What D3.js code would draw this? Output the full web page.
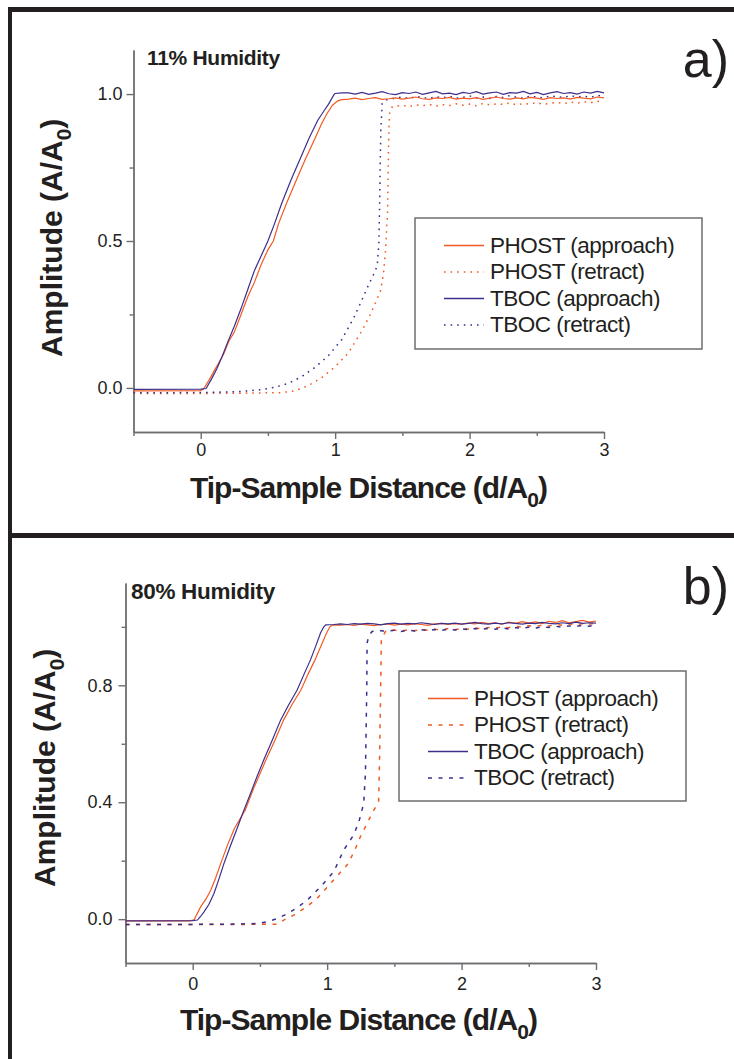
<!DOCTYPE html>
<html>
<head>
<meta charset="utf-8">
<script src="https://d3js.org/d3.v7.min.js"></script>
<style>
body { margin:0; background:#fff; }
svg { display:block; font-family:"Liberation Sans", Arial, sans-serif; }
.axis path, .axis line { stroke:#6d6e71; stroke-width:1.4; }
.axis text { fill:#231f20; font-size:18px; font-family:"Liberation Sans", Arial, sans-serif; }
</style>
</head>
<body>
<svg width="734" height="1059"></svg>
<script>
// x positions of the noisy plateaus
var gridA = [1.10,1.15,1.20,1.25,1.30,1.35,1.40,1.45,1.50,1.55,1.60,1.65,1.70,1.75,1.80,1.85,1.90,1.95,2.00,
  2.05,2.10,2.15,2.20,2.25,2.30,2.35,2.40,2.45,2.50,2.55,2.60,2.65,2.70,2.75,2.80,2.85,2.90,2.95,3.00];
var gridR = [1.45,1.50,1.55,1.60,1.65,1.70,1.75,1.80,1.85,1.90,1.95,2.00,
  2.05,2.10,2.15,2.20,2.25,2.30,2.35,2.40,2.45,2.50,2.55,2.60,2.65,2.70,2.75,2.80,2.85,2.90,2.95,3.00];

// ---- 11% humidity ----
var phostApp11 = [[-0.5,-0.01],[0,-0.009],[0.02,-0.004],[0.06,0.025],[0.10,0.058],[0.14,0.09],[0.17,0.115],
  [0.21,0.16],[0.25,0.19],[0.30,0.25],[0.35,0.31],[0.40,0.36],[0.45,0.42],[0.50,0.47],[0.54,0.50],[0.58,0.56],
  [0.64,0.63],[0.71,0.706],[0.78,0.78],[0.85,0.849],[0.90,0.90],[0.94,0.934],[0.98,0.962],[1.02,0.977],[1.05,0.981]];
var phostApp11Top = [0.983,0.986,0.981,0.985,0.988,0.982,0.984,0.987,0.983,0.986,0.990,0.984,0.982,0.987,0.985,0.989,
  0.983,0.986,0.984,0.988,0.982,0.986,0.990,0.985,0.983,0.987,0.984,0.989,0.986,0.982,0.988,0.985,0.987,0.983,0.989,
  0.986,0.984,0.990,0.987];
var tbocApp11 = [[-0.5,-0.005],[0,-0.004],[0.04,-0.002],[0.08,0.03],[0.12,0.065],[0.16,0.108],[0.20,0.155],
  [0.25,0.21],[0.30,0.27],[0.35,0.335],[0.40,0.40],[0.45,0.45],[0.50,0.50],[0.55,0.56],[0.60,0.625],[0.67,0.706],
  [0.74,0.78],[0.805,0.849],[0.87,0.91],[0.92,0.945],[0.95,0.965],[0.99,0.997],[1.00,1.002],[1.05,1.004]];
var tbocApp11Top = [1.004,1.000,1.006,0.999,1.003,1.008,1.001,0.998,1.005,1.002,1.007,0.999,1.004,1.009,1.001,1.003,
  0.998,1.006,1.002,1.008,1.000,1.004,1.007,0.999,1.005,1.003,1.009,1.001,1.006,0.998,1.004,1.008,1.002,1.005,1.000,
  1.007,1.003,1.009,1.004];
var phostRet11 = [[-0.5,-0.019],[-0.1,-0.019],[0.3,-0.018],[0.6,-0.016],[0.7,-0.01],[0.8,0.008],[0.9,0.035],
  [1.0,0.072],[1.1,0.12],[1.2,0.195],[1.264,0.252],[1.31,0.30],[1.338,0.331],[1.36,0.39],[1.375,0.468],[1.39,0.60],
  [1.395,0.75],[1.40,0.88],[1.405,0.935],[1.425,0.957]];
var phostRet11Top = [0.958,0.962,0.957,0.963,0.960,0.965,0.959,0.964,0.961,0.967,0.962,0.966,0.960,0.968,0.963,0.967,
  0.965,0.970,0.963,0.968,0.966,0.971,0.965,0.969,0.972,0.967,0.973,0.969,0.974,0.970,0.976,0.972];
var tbocRet11 = [[-0.5,-0.016],[-0.2,-0.016],[0.1,-0.015],[0.3,-0.012],[0.45,-0.006],[0.55,0.002],[0.65,0.015],
  [0.75,0.038],[0.85,0.07],[0.95,0.11],[1.05,0.165],[1.14,0.24],[1.20,0.30],[1.24,0.342],[1.29,0.39],[1.313,0.416],
  [1.325,0.49],[1.33,0.60],[1.335,0.75],[1.34,0.88],[1.35,0.968],[1.37,0.978],[1.40,0.983]];
var tbocRet11Top = [0.986,0.990,0.984,0.992,0.988,0.985,0.991,0.987,0.993,0.986,0.989,0.994,0.987,0.990,0.985,0.992,
  0.988,0.995,0.989,0.986,0.993,0.990,0.987,0.994,0.991,0.988,0.995,0.990,0.993,0.989,0.996,0.992];

// ---- 80% humidity ----
var phostApp80 = [[-0.5,-0.006],[-0.02,-0.006],[0.01,-0.002],[0.059,0.042],[0.10,0.07],[0.134,0.099],[0.17,0.14],
  [0.208,0.19],[0.26,0.255],[0.31,0.31],[0.39,0.373],[0.46,0.455],[0.545,0.545],[0.61,0.61],[0.675,0.68],[0.74,0.735],
  [0.805,0.784],[0.86,0.84],[0.91,0.887],[0.95,0.93],[0.995,0.978],[1.02,1.0],[1.04,1.006],[1.07,1.007]];
var phostApp80Top = [1.006,1.008,1.005,1.009,1.007,1.004,1.008,1.010,1.006,1.009,1.007,1.011,1.008,1.005,1.010,1.012,
  1.008,1.011,1.009,1.013,1.010,1.015,1.011,1.014,1.009,1.016,1.012,1.018,1.013,1.017,1.011,1.019,1.015,1.021,1.014,
  1.018,1.022,1.016,1.020];
var tbocApp80 = [[-0.5,-0.006],[0,-0.005],[0.035,-0.003],[0.06,0.01],[0.084,0.025],[0.12,0.05],[0.158,0.088],
  [0.19,0.13],[0.232,0.19],[0.28,0.25],[0.33,0.31],[0.381,0.373],[0.43,0.43],[0.48,0.49],[0.529,0.545],[0.59,0.61],
  [0.653,0.68],[0.71,0.73],[0.777,0.784],[0.83,0.84],[0.876,0.887],[0.92,0.94],[0.95,0.978],[0.975,1.0],[0.99,1.007],
  [1.05,1.008]];
var tbocApp80Top = [1.010,1.008,1.011,1.009,1.012,1.010,1.007,1.011,1.013,1.009,1.012,1.010,1.014,1.011,1.008,1.012,
  1.010,1.013,1.009,1.012,1.015,1.011,1.009,1.013,1.010,1.014,1.012,1.009,1.013,1.011,1.015,1.012,1.010,1.014,1.011,
  1.016,1.012,1.014,1.013];
var phostRet80 = [[-0.5,-0.018],[0,-0.018],[0.4,-0.018],[0.629,-0.017],[0.69,0.0],[0.752,0.014],[0.84,0.04],
  [0.926,0.071],[1.04,0.13],[1.148,0.185],[1.20,0.23],[1.247,0.282],[1.30,0.33],[1.334,0.362],[1.383,0.402],
  [1.39,0.55],[1.395,0.70],[1.40,0.85],[1.403,0.955],[1.433,0.984]];
var phostRet80Top = [0.986,0.989,0.985,0.990,0.987,0.991,0.988,0.992,0.989,0.994,0.990,0.995,0.992,0.996,0.993,0.998,
  0.995,1.000,0.997,1.002,0.999,1.004,1.001,1.006,1.003,1.008,1.005,1.010,1.007,1.011,1.009,1.013];
var tbocRet80 = [[-0.5,-0.018],[0,-0.018],[0.3,-0.017],[0.48,-0.015],[0.56,-0.008],[0.629,0.002],[0.70,0.018],
  [0.78,0.04],[0.851,0.065],[0.95,0.11],[1.049,0.162],[1.123,0.236],[1.20,0.29],[1.24,0.34],[1.272,0.396],
  [1.285,0.50],[1.29,0.65],[1.295,0.80],[1.297,0.944],[1.31,0.97],[1.334,0.984],[1.40,0.987]];
var tbocRet80Top = [0.985,0.988,0.984,0.989,0.986,0.990,0.987,0.991,0.988,0.992,0.989,0.993,0.990,0.994,0.991,0.995,
  0.992,0.996,0.993,0.997,0.995,0.999,0.996,1.000,0.998,1.002,0.999,1.003,1.001,1.005,1.002,1.006];

var legendLabels = ["PHOST (approach)", "PHOST (retract)", "TBOC (approach)", "TBOC (retract)"];
var xMajor = [0, 1, 2, 3], xMinor = [-0.5, 0.5, 1.5, 2.5];

var orange = "#f15a22", blue = "#3b2e8c", ink = "#231f20";

function join(rise, xs, ys) {
  return rise.concat(xs.map(function(x, i) { return [x, ys[i]]; }));
}

var panels = [
  { title: "11% Humidity", titleX: 147, titleY: 65, titleSize: 21, letter: "a)", letterY: 77,
    xr: [133.5, 604], yr: [432, 50], yMajor: [0, 0.5, 1.0], yMinor: [0.25, 0.75],
    xPad: 4, yPad: 4, xTitle: [190, 498], yTitle: [62, 357], legend: [415, 218, 287, 131], dash: "1.6 5",
    series: [
      join(phostRet11, gridR, phostRet11Top), join(tbocRet11, gridR, tbocRet11Top),
      join(phostApp11, gridA, phostApp11Top), join(tbocApp11, gridA, tbocApp11Top)] },
  { title: "80% Humidity", titleX: 131, titleY: 599, titleSize: 22.5, letter: "b)", letterY: 604,
    xr: [125.5, 596], yr: [963, 583], yMajor: [0, 0.4, 0.8], yMinor: [0.2, 0.6, 1.0],
    xPad: 7, yPad: 6, xTitle: [180, 1030], yTitle: [55, 887], legend: [399, 671, 287, 130], dash: "4 6.5",
    series: [
      join(phostRet80, gridR, phostRet80Top), join(tbocRet80, gridR, tbocRet80Top),
      join(phostApp80, gridA, phostApp80Top), join(tbocApp80, gridA, tbocApp80Top)] }
];

var svg = d3.select("svg");

// panel frame
svg.append("rect").attr("x", 8).attr("y", 7).attr("width", 726).attr("height", 5).attr("fill", ink);
svg.append("rect").attr("x", 8).attr("y", 7).attr("width", 4).attr("height", 1052).attr("fill", ink);
svg.append("rect").attr("x", 8).attr("y", 533).attr("width", 726).attr("height", 5).attr("fill", ink);

panels.forEach(function(p) {
  var xs = d3.scaleLinear().domain([-0.5, 3]).range(p.xr);
  var ys = d3.scaleLinear().domain([-0.15, 1.15]).range(p.yr);
  var g = svg.append("g");

  // axes
  g.append("g").attr("class", "axis").attr("transform", "translate(0," + p.yr[0] + ")")
    .call(d3.axisBottom(xs).tickValues(xMinor).tickSize(4).tickSizeOuter(0).tickFormat(""));
  g.append("g").attr("class", "axis").attr("transform", "translate(0," + p.yr[0] + ")")
    .call(d3.axisBottom(xs).tickValues(xMajor).tickSize(7).tickSizeOuter(0).tickPadding(p.xPad).tickFormat(d3.format("d")));
  g.append("g").attr("class", "axis").attr("transform", "translate(" + p.xr[0] + ",0)")
    .call(d3.axisLeft(ys).tickValues(p.yMinor).tickSize(4).tickSizeOuter(0).tickFormat(""));
  g.append("g").attr("class", "axis").attr("transform", "translate(" + p.xr[0] + ",0)")
    .call(d3.axisLeft(ys).tickValues(p.yMajor).tickSize(7).tickSizeOuter(0).tickPadding(p.yPad).tickFormat(d3.format(".1f")));
  g.selectAll(".axis text").attr("font-size", null).attr("font-family", null);

  // curves
  var line = d3.line().x(function(d) { return xs(d[0]); }).y(function(d) { return ys(d[1]); });
  var styles = [[orange, p.dash], [blue, p.dash], [orange, null], [blue, null]];
  p.series.forEach(function(s, i) {
    g.append("path").attr("d", line(s)).attr("fill", "none")
      .attr("stroke", styles[i][0]).attr("stroke-width", styles[i][1] ? 1.5 : 1.2)
      .attr("stroke-dasharray", styles[i][1]);
  });

  // titles
  g.append("text").attr("x", p.titleX).attr("y", p.titleY).attr("font-weight", "bold")
    .attr("font-size", p.titleSize).attr("letter-spacing", -0.3).attr("fill", ink).text(p.title);
  g.append("text").attr("x", 729).attr("y", p.letterY).attr("text-anchor", "end")
    .attr("font-size", 52).attr("fill", ink).text(p.letter);

  var xt = g.append("text").attr("x", p.xTitle[0]).attr("y", p.xTitle[1]).attr("font-weight", "bold")
    .attr("font-size", 30).attr("letter-spacing", -1).attr("fill", ink);
  xt.append("tspan").text("Tip-Sample Distance (d/A");
  xt.append("tspan").attr("font-size", 21).attr("dy", 9).text("0");
  xt.append("tspan").attr("dy", -9).text(")");

  var yt = g.append("text").attr("transform", "translate(" + p.yTitle[0] + "," + p.yTitle[1] + ") rotate(-90)")
    .attr("font-weight", "bold").attr("font-size", 30).attr("letter-spacing", 0).attr("fill", ink);
  yt.append("tspan").text("Amplitude (A/A");
  yt.append("tspan").attr("font-size", 21).attr("dy", 9).text("0");
  yt.append("tspan").attr("dy", -9).text(")");

  // legend
  var L = p.legend;
  g.append("rect").attr("x", L[0]).attr("y", L[1]).attr("width", L[2]).attr("height", L[3])
    .attr("fill", "#fff").attr("stroke", "#6d6e71").attr("stroke-width", 1.5);
  legendLabels.forEach(function(lab, i) {
    var by = L[1] + 34.5 + i * 26.5;
    var st = [[orange, null], [orange, p.dash], [blue, null], [blue, p.dash]][i];
    g.append("line").attr("x1", L[0] + 29).attr("x2", L[0] + 69).attr("y1", by - 7).attr("y2", by - 7)
      .attr("stroke", st[0]).attr("stroke-width", 1.3).attr("stroke-dasharray", st[1]);
    g.append("text").attr("x", L[0] + 75).attr("y", by).attr("font-size", 22.5).attr("letter-spacing", -0.5)
      .attr("fill", ink).text(lab);
  });
});
</script>
</body>
</html>
